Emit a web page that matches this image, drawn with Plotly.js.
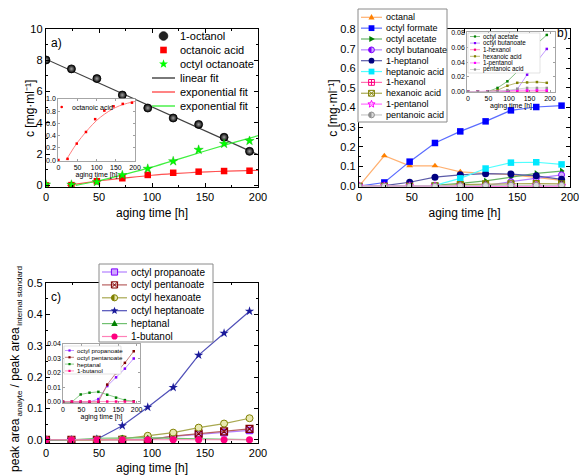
<!DOCTYPE html>
<html><head><meta charset="utf-8">
<script src="https://cdn.plot.ly/plotly-3.0.1.min.js"></script>
<style>html,body{margin:0;padding:0;background:#fff}#chart{width:579px;height:475px}</style>
</head><body><div id="chart"></div>
<script>
const W = 579, H = 475;
const FONT = 'Liberation Sans, Arial, sans-serif';

// ---------------- data ----------------
const agingTime = [0, 24, 48, 72, 96, 120, 144, 168, 192];

// panel a) concentrations [mg/ml]
const octanol        = [8.02, 7.45, 6.83, 5.78, 4.95, 4.31, 3.90, 3.08, 2.18];
const octanoicAcid   = [0.00, 0.02, 0.27, 0.46, 0.67, 0.81, 0.88, 0.92, 0.94];
const octylOctanoate = [0.05, 0.05, 0.22, 0.66, 1.07, 1.55, 2.28, 2.66, 2.85];
const linearFitX = [0, 200];
const linearFitY = [8.07, 1.97];
const expFitAcidX = [20, 30, 40, 50, 60, 80, 100, 120, 140, 160, 180, 200];
const expFitAcidY = [0.00, 0.10, 0.20, 0.29, 0.37, 0.52, 0.65, 0.75, 0.83, 0.89, 0.93, 0.96];
const expFitEsterX = [28, 50, 75, 100, 125, 150, 175, 200];
const expFitEsterY = [0.00, 0.30, 0.72, 1.17, 1.68, 2.20, 2.70, 3.18];

// panel b) concentrations [mg/ml]
const octanal        = [0.000, 0.155, 0.104, 0.104, 0.073, 0.065, 0.058, 0.045, 0.030];
const octylFormate   = [0.000, 0.019, 0.125, 0.220, 0.279, 0.330, 0.386, 0.403, 0.410];
const octylAcetate   = [0.000, 0.000, 0.000, 0.005, 0.014, 0.027, 0.047, 0.065, 0.077];
const octylButanoate = [0.000, 0.000, 0.000, 0.000, 0.0005, 0.003, 0.023, 0.041, 0.058];
const heptanol       = [0.000, 0.003, 0.020, 0.046, 0.058, 0.064, 0.062, 0.053, 0.035];
const heptanoicAcid  = [0.000, 0.000, 0.000, 0.004, 0.040, 0.090, 0.120, 0.122, 0.111];
const hexanol        = [0.000, 0.000, 0.000, 0.000, 0.0005, 0.001, 0.001, 0.001, 0.001];
const hexanoicAcid   = [0.000, 0.000, 0.000, 0.002, 0.008, 0.012, 0.0125, 0.013, 0.012];
const pentanol       = [0.000, 0.000, 0.000, 0.000, 0.001, 0.002, 0.002, 0.0025, 0.002];
const pentanoicAcid  = [0.000, 0.000, 0.000, 0.000, 0.002, 0.004, 0.005, 0.005, 0.005];

// panel c) peak area ratios
const octylPropanoate = [0.000, 0.000, 0.000, 0.000, 0.002, 0.011, 0.017, 0.023, 0.030];
const octylPentanoate = [0.000, 0.000, 0.000, 0.000, 0.000, 0.012, 0.020, 0.027, 0.035];
const octylHexanoate  = [0.000, 0.000, 0.000, 0.003, 0.013, 0.023, 0.039, 0.052, 0.069];
const octylHeptanoate = [0.000, 0.000, 0.002, 0.045, 0.104, 0.167, 0.270, 0.340, 0.410];
const heptanal        = [0.000, 0.000, 0.0052, 0.0064, 0.007, 0.005, 0.003, 0.0013, 0.0005];
const butanol         = [0.0003, 0.0003, 0.0003, 0.0003, 0.0003, 0.0003, 0.0003, 0.0003, 0.0003];

// ---------------- styles ----------------
const seriesB = [
  {name:'octanal',          y:octanal,        c:'#ff8000', lc:'#ffb070', sym:'triangle-up', sz:6, inset:false},
  {name:'octyl formate',    y:octylFormate,   c:'#0000ff', lc:'#5a6cff', sym:'square', sz:6.5, inset:false},
  {name:'octyl acetate',    y:octylAcetate,   c:'#008000', lc:'#66b366', sym:'triangle-right', sz:6, inset:true},
  {name:'octyl butanoate',  y:octylButanoate, c:'#8000ff', lc:'#b380ff', sym:'circle', fill:'#d0a8ff', half:true, sz:6, inset:true},
  {name:'1-heptanol',       y:heptanol,       c:'#000080', lc:'#5a5aa8', sym:'circle', sz:7, inset:false},
  {name:'heptanoic acid',   y:heptanoicAcid,  c:'#00e8ff', lc:'#50ffff', sym:'square', sz:6.5, inset:false},
  {name:'1-hexanol',        y:hexanol,        c:'#ff0080', lc:'#ff70b0', sym:'square-cross-open', sz:6, inset:true},
  {name:'hexanoic acid',    y:hexanoicAcid,   c:'#808000', lc:'#a8a850', sym:'square-x-open', sz:6, inset:true},
  {name:'1-pentanol',       y:pentanol,       c:'#ff00ff', lc:'#ff70ff', sym:'star-open', sz:6, inset:true},
  {name:'pentanoic acid',   y:pentanoicAcid,  c:'#909090', lc:'#c8c8c8', sym:'circle', fill:'#d8d8d8', half:true, sz:6, inset:true}
];
const seriesC = [
  {name:'octyl propanoate',  y:octylPropanoate, c:'#8000ff', lc:'#b380ff', sym:'square', fill:'#d0a8ff', sz:6.5, inset:true},
  {name:'octyl pentanoate',  y:octylPentanoate, c:'#800000', lc:'#b86060', sym:'square-x-open', sz:7, inset:true},
  {name:'octyl hexanoate',   y:octylHexanoate,  c:'#808000', lc:'#a8a850', sym:'circle', fill:'#e8e8b0', half:true, sz:7, inset:false},
  {name:'octyl heptanoate',  y:octylHeptanoate, c:'#1a1a9a', lc:'#5050b8', sym:'star', sz:7, inset:false},
  {name:'heptanal',          y:heptanal,        c:'#008000', lc:'#70c070', sym:'triangle-up', sz:6, inset:true},
  {name:'1-butanol',         y:butanol,         c:'#ff0080', lc:'#ff80b8', sym:'circle', sz:7, inset:true}
];

// ---------------- traces ----------------
const traces = [];
function series(s, xa, ya, size, lw){
  return {x:agingTime, y:s.y, xaxis:xa, yaxis:ya, type:'scatter', mode:'lines+markers', name:s.name,
    showlegend:false, line:{color:s.lc, width:lw},
    marker:{symbol:s.sym, size:size, color:s.fill || s.c, line:{color:s.c, width:s.sym.indexOf('open')>=0?1.1:(s.fill?1:0)}}};
}
// panel a
traces.push({x:linearFitX, y:linearFitY, xaxis:'x', yaxis:'y', mode:'lines', line:{color:'#404040', width:1.2}, name:'linear fit', showlegend:false});
traces.push({x:expFitAcidX, y:expFitAcidY, xaxis:'x', yaxis:'y', mode:'lines', line:{color:'#ff5050', width:1.2, shape:'spline'}, name:'exponential fit', showlegend:false});
traces.push({x:expFitEsterX, y:expFitEsterY, xaxis:'x', yaxis:'y', mode:'lines', line:{color:'#40f040', width:1.2, shape:'spline'}, name:'exponential fit', showlegend:false});
traces.push({x:agingTime, y:octanol, xaxis:'x', yaxis:'y', mode:'markers', name:'1-octanol', showlegend:false,
  marker:{symbol:'circle', size:8, color:'#000', gradient:{type:'radial', color:'#a0a0a0'}, line:{color:'#000', width:0.8}}});
traces.push({x:agingTime, y:octanoicAcid, xaxis:'x', yaxis:'y', mode:'markers', name:'octanoic acid', showlegend:false,
  marker:{symbol:'square', size:6.5, color:'#ff0000'}});
traces.push({x:agingTime, y:octylOctanoate, xaxis:'x', yaxis:'y', mode:'markers', name:'octyl octanoate', showlegend:false,
  marker:{symbol:'star', size:7, color:'#00ff00', line:{color:'#00b000', width:0.4}}});
// inset a
traces.push({x:expFitAcidX, y:expFitAcidY, xaxis:'x2', yaxis:'y2', mode:'lines', line:{color:'#ff8080', width:1, shape:'spline'}, showlegend:false, name:'exponential fit'});
traces.push({x:agingTime, y:octanoicAcid, xaxis:'x2', yaxis:'y2', mode:'markers', marker:{symbol:'square', size:2.5, color:'#ff0000'}, showlegend:false, name:'octanoic acid'});
// panel b
seriesB.forEach(s => traces.push(series(s, 'x3', 'y3', s.sz, 1.2)));
seriesB.filter(s => s.inset).forEach(s => { const t = series(s, 'x4', 'y4', 2.5, 0.8); t.marker.line.width = 0; t.marker.color = s.c; t.marker.symbol = 'square'; traces.push(t); });
// panel c
seriesC.forEach(s => traces.push(series(s, 'x5', 'y5', s.sz, 1.2)));
seriesC.filter(s => s.inset).forEach(s => { const t = series(s, 'x6', 'y6', 2.5, 0.8); t.marker.line.width = 0; t.marker.color = s.c; t.marker.symbol = 'square'; traces.push(t); });

// ---------------- layout helpers ----------------
const px = x => x / W, py = y => 1 - y / H;
function mainAxis(o){
  return Object.assign({showline:true, linecolor:'#000', linewidth:1.2, mirror:'allticks', ticks:'inside', ticklen:4,
    tickwidth:1, tickcolor:'#000', showgrid:false, zeroline:false, fixedrange:true, ticklabeloverflow:'allow',
    tickfont:{family:FONT, size:11, color:'#000'}}, o);
}
function insetAxis(o){
  return Object.assign({showline:true, linecolor:'#909090', linewidth:0.8, mirror:'allticks', ticks:'inside', ticklen:2,
    tickwidth:0.6, tickcolor:'#606060', showgrid:false, zeroline:false, fixedrange:true, ticklabeloverflow:'allow',
    tickfont:{family:FONT, size:7, color:'#000'}}, o);
}
const minorTicks = d => ({ticks:'inside', ticklen:2, dtick:d, tickcolor:'#000', showgrid:false});
const ttl = (t, size, standoff) => ({text:t, font:{family:FONT, size:size, color:'#000'}, standoff:standoff});

const shapes = [], annotations = [];
function txt(t, x, y, size, anchor, color, angle){
  annotations.push({text:t, xref:'paper', yref:'paper', x:px(x), y:py(y), xanchor:anchor||'left', yanchor:'middle',
    showarrow:false, font:{family:FONT, size:size, color:color||'#000'}, borderpad:0, textangle:angle || 0});
}
// legend key symbols drawn as layout shapes (pixel geometry converted to paper fractions)
const pathOf = (pts, close) => 'M ' + pts.map(p => px(p[0]) + ',' + py(p[1])).join(' L ') + (close === false ? '' : ' Z');
function shp(o){ shapes.push(Object.assign({xref:'paper', yref:'paper', layer:'above'}, o)); }
function boxShape(type, cx, cy, r, fill, line, lw){
  shp({type:type, x0:px(cx - r), x1:px(cx + r), y0:py(cy + r), y1:py(cy - r), fillcolor:fill, line:{color:line, width:lw}});
}
function starPts(cx, cy, R){
  const pts = [];
  for (let k = 0; k < 10; k++){ const a = -Math.PI / 2 + k * Math.PI / 5, r = k % 2 ? R * 0.42 : R; pts.push([cx + r * Math.cos(a), cy + r * Math.sin(a)]); }
  return pts;
}
function keySymbol(s, cx, cy, r){
  const c = s.c;
  switch (s.sym){
    case 'square': boxShape('rect', cx, cy, r, s.fill || c, c, s.fill ? 1 : 0); break;
    case 'circle':
      if (s.half){
        boxShape('circle', cx, cy, r, s.fill, c, 1);
        const pts = []; for (let k = 0; k <= 12; k++){ const a = Math.PI / 2 + k * Math.PI / 12; pts.push([cx + r * Math.cos(a), cy + r * Math.sin(a)]); }
        shp({type:'path', path:pathOf(pts), fillcolor:c, line:{width:0}});
      } else boxShape('circle', cx, cy, r, s.fill || c, c, s.gradient ? 0.8 : 0);
      break;
    case 'triangle-up': shp({type:'path', path:pathOf([[cx, cy - r * 1.15], [cx + r * 1.05, cy + r * 0.75], [cx - r * 1.05, cy + r * 0.75]]), fillcolor:c, line:{width:0}}); break;
    case 'triangle-right': shp({type:'path', path:pathOf([[cx + r * 1.15, cy], [cx - r * 0.75, cy - r * 1.05], [cx - r * 0.75, cy + r * 1.05]]), fillcolor:c, line:{width:0}}); break;
    case 'star': shp({type:'path', path:pathOf(starPts(cx, cy, r * 1.3)), fillcolor:c, line:{width:0}}); break;
    case 'star-open': shp({type:'path', path:pathOf(starPts(cx, cy, r * 1.3)), fillcolor:'rgba(0,0,0,0)', line:{color:c, width:1}}); break;
    case 'square-x-open':
      boxShape('rect', cx, cy, r, 'rgba(0,0,0,0)', c, 1);
      shp({type:'path', path:pathOf([[cx - r, cy - r], [cx + r, cy + r]], false) + ' ' + pathOf([[cx + r, cy - r], [cx - r, cy + r]], false), line:{color:c, width:1}});
      break;
    case 'square-cross-open':
      boxShape('rect', cx, cy, r, 'rgba(0,0,0,0)', c, 1);
      shp({type:'path', path:pathOf([[cx, cy - r], [cx, cy + r]], false) + ' ' + pathOf([[cx - r, cy], [cx + r, cy]], false), line:{color:c, width:1}});
      break;
  }
}
function legendBlock(entries, o){
  if (o.box) shp({type:'rect', x0:px(o.box[0]), y0:py(o.box[1]), x1:px(o.box[2]), y1:py(o.box[3]),
    line:{color:o.boxColor || '#8a8a8a', width:o.boxWidth || 1}, fillcolor:'#fff'});
  entries.forEach((e, i) => {
    const y = o.y0 + i * o.dy, xm = (o.lx0 + o.lx1) / 2;
    if (e.lc) shp({type:'line', x0:px(o.lx0), x1:px(o.lx1), y0:py(y), y1:py(y), line:{color:e.lc, width:o.lw || 1.2}});
    if (e.sym) keySymbol(e, xm, y, e.r || o.r);
    txt(e.name, o.tx, y, o.fs);
  });
}

// legend a)
legendBlock([
  {name:'1-octanol', sym:'circle', c:'#111', fill:'#222', gradient:true, r:4.3},
  {name:'octanoic acid', sym:'square', c:'#ff0000', r:3.3},
  {name:'octyl octanoate', sym:'star', c:'#00ff00', r:3.6},
  {name:'linear fit', lc:'#404040'},
  {name:'exponential fit', lc:'#ff5050'},
  {name:'exponential fit', lc:'#40f040'}
], {lx0:152, lx1:175, tx:179, y0:36, dy:14, fs:11, r:3.5, lw:1.4});
// legend b)
legendBlock(seriesB, {box:[358, 9, 447, 122], lx0:361, lx1:382, tx:385, y0:17.3, dy:10.85, fs:9, r:2.9, lw:1.2});
// legend c)
legendBlock(seriesC, {box:[99, 264, 213, 342], lx0:102, lx1:127, tx:130, y0:272, dy:12.9, fs:10, r:3.1, lw:1.2});
// inset legend b)
legendBlock(seriesB.filter(s => s.inset).map(s => ({name:s.name, lc:s.lc, sym:'square', c:s.c})),
  {box:[468, 33, 540, 73], boxColor:'#d0d0d0', boxWidth:0.6, lx0:470, lx1:480, tx:482, y0:36.5, dy:6.6, fs:6.3, r:1.1, lw:0.8});
// inset legend c)
legendBlock(seriesC.filter(s => s.inset).map(s => ({name:s.name, lc:s.lc, sym:'square', c:s.c})),
  {box:[64, 346, 121, 374], boxColor:'#d0d0d0', boxWidth:0.6, lx0:65, lx1:74, tx:76, y0:350.5, dy:6.8, fs:6.2, r:1.1, lw:0.8});
// inset a label
boxShape('circle', 61.7, 107, 1.3, '#ff0000', '#ff0000', 0);
txt('octanoic acid', 70.5, 107, 7);

// panel labels
txt('a)', 50, 43, 12);
txt('b)', 556, 33, 12);
txt('c)', 50, 297, 12);

// y title of panel a (placed close to the axis, as in the original)
txt('c [mg·ml⁻¹]', 30, 108, 12, 'center', '#000', -90);

// y title of panel c with subscripts, composed from rotated pieces reading bottom-to-top
(function(){
  const ctx = document.createElement('canvas').getContext('2d');
  const wOf = (t, s) => { ctx.font = s + 'px "Liberation Sans", Arial, sans-serif'; return ctx.measureText(t).width; };
  const MAIN = 12, SUB = 8, xMain = 15, xSub = 19.5, centerY = 369;
  const pieces = [
    {t:'peak area', s:MAIN, x:xMain, gap:1.5},
    {t:'analyte', s:SUB, x:xSub, gap:3.5},
    {t:'/ peak area', s:MAIN, x:xMain, gap:1.5},
    {t:'internal standard', s:SUB, x:xSub, gap:0}
  ];
  const total = pieces.reduce((a, p) => a + wOf(p.t, p.s) + p.gap, 0);
  let yPos = centerY + total / 2;
  pieces.forEach(p => {
    const w = wOf(p.t, p.s);
    txt(p.t, p.x, yPos - w / 2, p.s, 'center', '#000', -90);
    yPos -= w + p.gap;
  });
})();

const layout = {
  width:W, height:H, margin:{l:0, r:0, t:0, b:0}, paper_bgcolor:'#fff', plot_bgcolor:'#fff',
  showlegend:false, font:{family:FONT, color:'#000'},
  xaxis: mainAxis({domain:[px(46), px(258)], range:[0, 200], dtick:50, anchor:'y', minor:minorTicks(25),
    title:ttl('aging time [h]', 12, 6)}),
  yaxis: mainAxis({domain:[py(187), py(29)], range:[-0.1, 10], dtick:2, anchor:'x', minor:minorTicks(1)}),
  xaxis2: insetAxis({domain:[px(58), px(135)], range:[-1, 200], dtick:50, anchor:'y2', title:ttl('aging time [h]', 7, 0)}),
  yaxis2: insetAxis({domain:[py(161), py(99)], range:[-0.015, 1.0], dtick:0.2, tickformat:'.1f', anchor:'x2'}),
  xaxis3: mainAxis({domain:[px(359), px(570)], range:[0, 200], dtick:50, anchor:'y3', minor:minorTicks(25),
    title:ttl('aging time [h]', 12, 6)}),
  yaxis3: mainAxis({domain:[py(187), py(29)], range:[-0.004, 0.8], dtick:0.1, tickformat:'.1f', anchor:'x3', minor:minorTicks(0.05),
    title:ttl('c [mg·ml⁻¹]', 12, 0)}),
  xaxis4: insetAxis({domain:[px(467), px(555)], range:[-2.4, 212], dtick:50, anchor:'y4', title:ttl('aging time [h]', 7, 0)}),
  yaxis4: insetAxis({domain:[py(92), py(32)], range:[-0.0005, 0.081], dtick:0.02, tickformat:'.2f', anchor:'x4'}),
  xaxis5: mainAxis({domain:[px(46), px(258)], range:[0, 200], dtick:50, anchor:'y5', minor:minorTicks(25),
    title:ttl('aging time [h]', 12, 12)}),
  yaxis5: mainAxis({domain:[py(443), py(283)], range:[-0.01, 0.5], dtick:0.1, tickformat:'.1f', anchor:'x5', minor:minorTicks(0.05)}),
  xaxis6: insetAxis({domain:[px(63), px(140)], range:[0, 209], dtick:50, anchor:'y6', title:ttl('aging time [h]', 7, 0)}),
  yaxis6: insetAxis({domain:[py(403), py(344)], range:[-0.0007, 0.04], dtick:0.01, tickformat:'.2f', anchor:'x6'}),
  shapes:shapes, annotations:annotations
};

Plotly.newPlot('chart', traces, layout, {staticPlot:true, displayModeBar:false});
</script>
</body></html>
